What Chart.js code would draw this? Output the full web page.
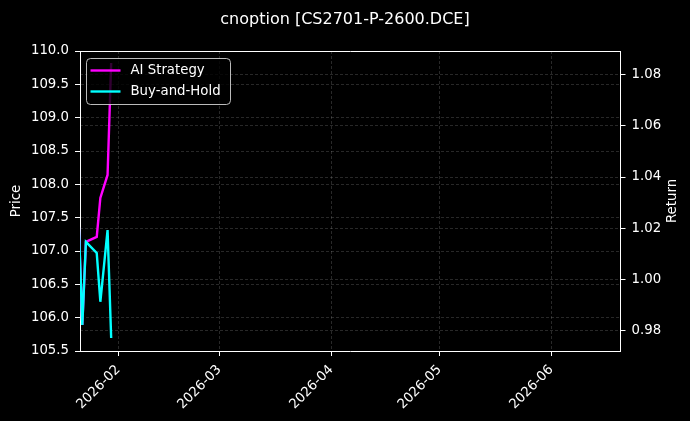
<!DOCTYPE html>
<html>
<head>
<meta charset="utf-8">
<title>cnoption [CS2701-P-2600.DCE]</title>
<script src="https://cdn.jsdelivr.net/npm/chart.js@4.4.1/dist/chart.umd.min.js"></script>
<style>
  html, body { margin: 0; padding: 0; background: #000; }
  canvas { display: block; }
</style>
</head>
<body>
<canvas id="myChart" width="690" height="421"></canvas>
<script>
const titulo = "cnoption [CS2701-P-2600.DCE]";
const fechas = ["2026-01-21", "2026-01-22", "2026-01-23", "2026-01-26", "2026-01-27", "2026-01-29", "2026-01-30"];
const aiStrategy = [1.022, 0.982, 1.0146, 1.0165, 1.0318, 1.0408, 1.0847];
const buyAndHold = [1.022, 0.982, 1.0146, 1.0102, 0.9911, 1.0192, 0.9769];
const priceTicks = [105.5, 106.0, 106.5, 107.0, 107.5, 108.0, 108.5, 109.0, 109.5, 110.0];
const returnTicks = [0.98, 1.00, 1.02, 1.04, 1.06, 1.08];
const monthTicks = ["2026-02", "2026-03", "2026-04", "2026-05", "2026-06"];
const priceRange = [105.5, 110.0];
const returnRange = [0.9718, 1.0894];
const dateRange = ["2026-01-21T08:40:00Z", "2026-06-20T04:00:00Z"];

const FONT = "'DejaVu Sans', sans-serif";
const gridColor = "rgba(255, 255, 255, 0.2)";
const tickFont = { family: FONT, size: 13.3 };

function toPoints(values) {
  return fechas.map((f, i) => ({ x: Date.parse(f), y: values[i] }));
}

function fixedTicks(list) {
  return (scale) => {
    scale.ticks = list.map((v) => ({ value: v }));
  };
}

// titulo, etiquetas de ejes, borde superior y leyenda
const decoracion = {
  id: "decoracion",
  afterDraw(chart) {
    const { ctx, chartArea: a } = chart;
    ctx.save();
    ctx.strokeStyle = "#fff";
    ctx.lineWidth = 1;
    ctx.beginPath();
    ctx.moveTo(a.left, Math.round(a.top) + 0.5);
    ctx.lineTo(a.right + 0.5, Math.round(a.top) + 0.5);
    ctx.stroke();

    ctx.fillStyle = "#fff";
    ctx.textAlign = "center";
    ctx.textBaseline = "middle";
    ctx.font = `16px ${FONT}`;
    ctx.fillText(titulo, chart.width / 2, 19.5);

    ctx.font = `13.3px ${FONT}`;
    const cy = (a.top + a.bottom) / 2;
    [["Price", 17], ["Return", 672.5]].forEach(([txt, x]) => {
      ctx.save();
      ctx.translate(x, cy);
      ctx.rotate(-Math.PI / 2);
      ctx.fillText(txt, 0, 0);
      ctx.restore();
    });

    // leyenda
    const bx = a.left + 6.5;
    const by = a.top + 7.5;
    ctx.beginPath();
    ctx.roundRect(bx, by, 144, 46, 4);
    ctx.fillStyle = "rgba(0, 0, 0, 0.8)";
    ctx.fill();
    ctx.strokeStyle = "rgba(220, 220, 220, 0.85)";
    ctx.lineWidth = 1;
    ctx.stroke();
    ctx.textAlign = "left";
    chart.data.datasets.forEach((ds, i) => {
      const y = by + 12 + i * 21;
      ctx.strokeStyle = ds.borderColor;
      ctx.lineWidth = 2.4;
      ctx.beginPath();
      ctx.moveTo(bx + 4, y);
      ctx.lineTo(bx + 34, y);
      ctx.stroke();
      ctx.fillStyle = "#fff";
      ctx.fillText(ds.label, bx + 44, y + 0.5);
    });
    ctx.restore();
  },
};

const config = {
  type: "line",
  data: {
    datasets: [
      {
        label: "AI Strategy",
        data: toPoints(aiStrategy),
        borderColor: "#ff00ff",
        borderWidth: 2.4,
        pointRadius: 0,
        yAxisID: "yReturn",
        order: 1,
      },
      {
        label: "Buy-and-Hold",
        data: toPoints(buyAndHold),
        borderColor: "#00ffff",
        borderWidth: 2.4,
        pointRadius: 0,
        yAxisID: "yReturn",
        order: 0,
      },
    ],
  },
  options: {
    responsive: false,
    animation: false,
    devicePixelRatio: 1,
    layout: { padding: { top: 51, left: 0, right: 0, bottom: 0 } },
    plugins: { legend: { display: false }, tooltip: { enabled: false } },
    scales: {
      x: {
        type: "linear",
        min: Date.parse(dateRange[0]),
        max: Date.parse(dateRange[1]),
        afterBuildTicks: fixedTicks(monthTicks.map((m) => Date.parse(m + "-01"))),
        afterFit: (s) => { s.height = 70; },
        ticks: {
          color: "#fff",
          font: tickFont,
          minRotation: 45,
          maxRotation: 45,
          padding: 6,
          autoSkip: false,
          callback: (v, i) => monthTicks[i],
        },
        grid: { color: gridColor, lineWidth: 0.8, tickColor: "#fff", tickWidth: 1, tickLength: 5 },
        border: { color: "#fff", width: 1, dash: [3, 2] },
      },
      yPrice: {
        type: "linear",
        position: "left",
        min: priceRange[0],
        max: priceRange[1],
        afterBuildTicks: fixedTicks(priceTicks),
        afterFit: (s) => { s.width = 80; },
        ticks: {
          color: "#fff",
          font: tickFont,
          padding: 6,
          callback: (v) => v.toFixed(1),
        },
        grid: { color: gridColor, lineWidth: 0.8, tickColor: "#fff", tickWidth: 1, tickLength: 5 },
        border: { color: "#fff", width: 1, dash: [3, 2] },
      },
      yReturn: {
        type: "linear",
        position: "right",
        min: returnRange[0],
        max: returnRange[1],
        afterBuildTicks: fixedTicks(returnTicks),
        afterFit: (s) => { s.width = 69.5; },
        ticks: {
          color: "#fff",
          font: tickFont,
          padding: 6,
          callback: (v) => v.toFixed(2),
        },
        grid: { color: gridColor, lineWidth: 0.8, tickColor: "#fff", tickWidth: 1, tickLength: 5 },
        border: { color: "#fff", width: 1, dash: [3, 2] },
      },
    },
  },
  plugins: [decoracion],
};

Chart.defaults.font.family = FONT;
const canvas = document.getElementById("myChart");
const myChart = new Chart(canvas, config);
</script>
</body>
</html>
